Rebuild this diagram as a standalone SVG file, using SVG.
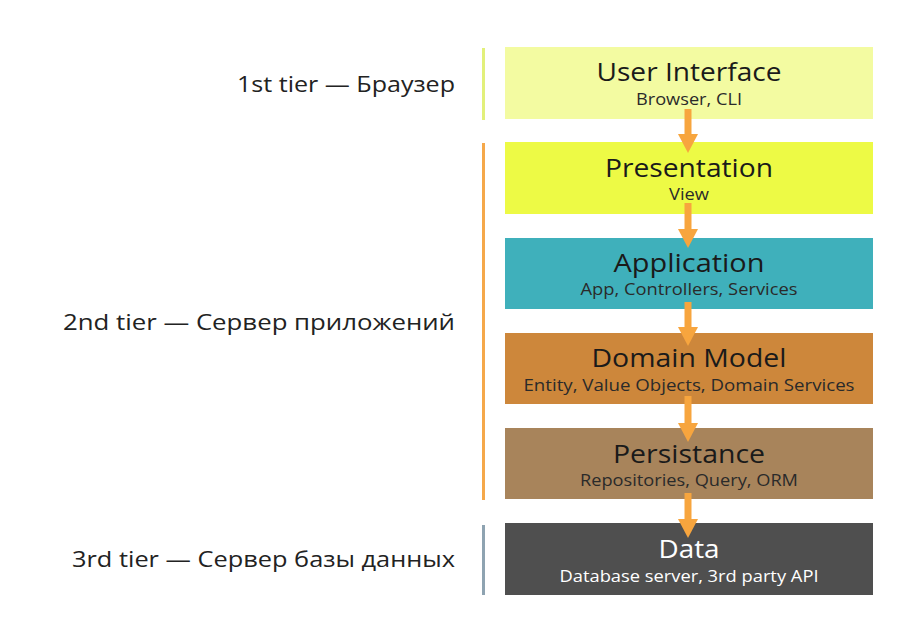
<svg xmlns="http://www.w3.org/2000/svg" width="908" height="630" viewBox="0 0 908 630">
<defs>
<style>
.title{font-family:"Open Sans","Noto Sans",sans-serif;font-size:25px;fill:#1a1a1a;text-anchor:middle}
.sub{font-family:"Open Sans","Noto Sans",sans-serif;font-size:16px;fill:#2a2a2a;text-anchor:middle}
.tier{font-family:"Open Sans","Noto Sans",sans-serif;font-size:22px;fill:#222;text-anchor:end}
.arrow{stroke:#f7a53e;stroke-width:7;fill:none}
</style>
<marker id="head" markerUnits="userSpaceOnUse" markerWidth="20" markerHeight="20" viewBox="0 0 20 20" refX="1" refY="10" orient="auto">
<path d="M0,0 L19,10 L0,20 Z" fill="#f7a53e"/>
</marker>
</defs>
<rect width="908" height="630" fill="#ffffff"/>
<g id="tiers">
<rect x="482" y="48" width="3" height="72" fill="#e2f07a"/>
<rect x="482" y="143" width="3" height="357" fill="#f5a84a"/>
<rect x="482" y="525" width="3" height="70" fill="#8ea3b1"/>
<text class="tier" x="455" y="92" textLength="218" lengthAdjust="spacingAndGlyphs">1st tier — Браузер</text>
<text class="tier" x="455" y="330" textLength="392" lengthAdjust="spacingAndGlyphs">2nd tier — Сервер приложений</text>
<text class="tier" x="455" y="567" textLength="383" lengthAdjust="spacingAndGlyphs">3rd tier — Сервер базы данных</text>
</g>
<g id="ui">
<rect x="505" y="47" width="368" height="72" fill="#f3fba1"/>
<text class="title" x="689" y="81" textLength="185" lengthAdjust="spacingAndGlyphs">User Interface</text>
<text class="sub" x="689" y="105" textLength="106" lengthAdjust="spacingAndGlyphs">Browser, CLI</text>
</g>
<g id="presentation">
<rect x="505" y="142" width="368" height="72" fill="#edfa45"/>
<text class="title" x="689" y="177" textLength="168" lengthAdjust="spacingAndGlyphs">Presentation</text>
<text class="sub" x="689" y="200" textLength="40" lengthAdjust="spacingAndGlyphs">View</text>
</g>
<g id="application">
<rect x="505" y="238" width="368" height="71" fill="#3fb0bb"/>
<text class="title" x="689" y="272" textLength="151" lengthAdjust="spacingAndGlyphs">Application</text>
<text class="sub" x="689" y="295" textLength="217" lengthAdjust="spacingAndGlyphs">App, Controllers, Services</text>
</g>
<g id="domain">
<rect x="505" y="333" width="368" height="71" fill="#cd873b"/>
<text class="title" x="689" y="367" textLength="195" lengthAdjust="spacingAndGlyphs">Domain Model</text>
<text class="sub" x="689" y="391" textLength="331" lengthAdjust="spacingAndGlyphs">Entity, Value Objects, Domain Services</text>
</g>
<g id="persistance">
<rect x="505" y="428" width="368" height="71" fill="#a8845b"/>
<text class="title" x="689" y="463" textLength="152" lengthAdjust="spacingAndGlyphs">Persistance</text>
<text class="sub" x="689" y="486" textLength="218" lengthAdjust="spacingAndGlyphs">Repositories, Query, ORM</text>
</g>
<g id="data">
<rect x="505" y="523" width="368" height="72" fill="#4f4f4f"/>
<text class="title" x="689" y="558" textLength="61" lengthAdjust="spacingAndGlyphs" style="fill:#ffffff">Data</text>
<text class="sub" x="689" y="582" textLength="259" lengthAdjust="spacingAndGlyphs" style="fill:#ffffff">Database server, 3rd party API</text>
</g>
<g id="connectors">
<line class="arrow" x1="688" y1="109" x2="688" y2="135" marker-end="url(#head)"/>
<line class="arrow" x1="688" y1="203" x2="688" y2="230" marker-end="url(#head)"/>
<line class="arrow" x1="688" y1="302" x2="688" y2="328" marker-end="url(#head)"/>
<line class="arrow" x1="688" y1="396" x2="688" y2="424" marker-end="url(#head)"/>
<line class="arrow" x1="688" y1="493" x2="688" y2="520" marker-end="url(#head)"/>
</g>
</svg>
